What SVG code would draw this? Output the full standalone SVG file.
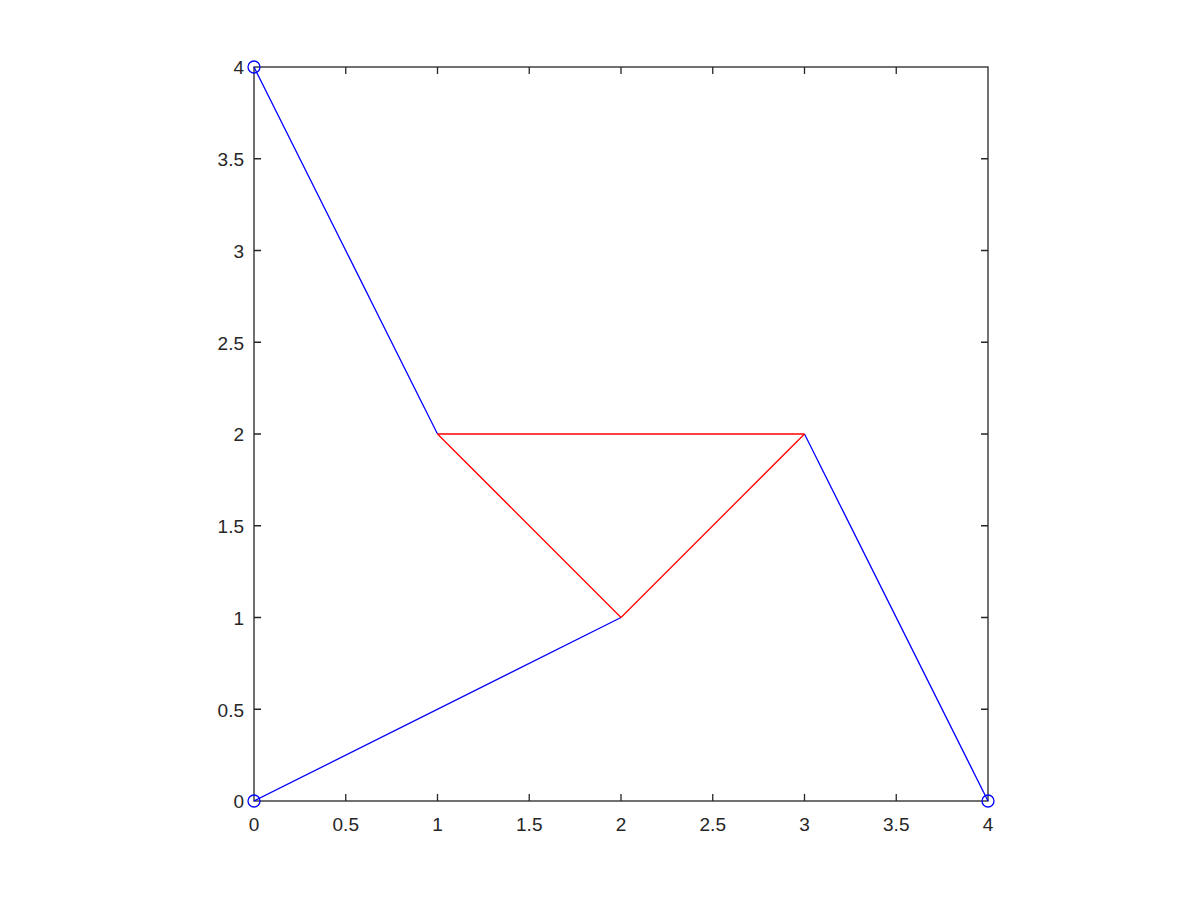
<svg xmlns="http://www.w3.org/2000/svg" width="1200" height="900" viewBox="0 0 1200 900">
<style>
.ax{fill:none;stroke:#262626;stroke-width:1.3}
.tk{stroke:#262626;stroke-width:1.3}
.lbl{font-family:"Liberation Sans",Arial,sans-serif;font-size:19px;fill:#262626}
.yl{text-anchor:end}
.xl{text-anchor:middle}
.b{stroke:#0000ff;stroke-width:1.3;fill:none}
.r{stroke:#ff0000;stroke-width:1.3;fill:none}
.m{stroke:#0000ff;stroke-width:1.3;fill:none}
</style>
<rect width="1200" height="900" fill="#ffffff"/>
<g id="axes">
<rect class="ax" x="254" y="67" width="734" height="734"/>
<g id="xticks">
<path class="tk" d="M345.75 801v-7M437.5 801v-7M529.25 801v-7M621 801v-7M712.75 801v-7M804.5 801v-7M896.25 801v-7M345.75 67v7M437.5 67v7M529.25 67v7M621 67v7M712.75 67v7M804.5 67v7M896.25 67v7"/>
</g>
<g id="yticks">
<path class="tk" d="M254 709.25h7M254 617.5h7M254 525.75h7M254 434h7M254 342.25h7M254 250.5h7M254 158.75h7M988 709.25h-7M988 617.5h-7M988 525.75h-7M988 434h-7M988 342.25h-7M988 250.5h-7M988 158.75h-7"/>
</g>
<g id="xlabels" class="lbl xl">
<text x="254" y="831">0</text>
<text x="345.75" y="831">0.5</text>
<text x="437.5" y="831">1</text>
<text x="529.25" y="831">1.5</text>
<text x="621" y="831">2</text>
<text x="712.75" y="831">2.5</text>
<text x="804.5" y="831">3</text>
<text x="896.25" y="831">3.5</text>
<text x="988" y="831">4</text>
</g>
<g id="ylabels" class="lbl yl">
<text x="244" y="808">0</text>
<text x="244" y="716.5">0.5</text>
<text x="244" y="624.5">1</text>
<text x="244" y="533">1.5</text>
<text x="244" y="441">2</text>
<text x="244" y="349.5">2.5</text>
<text x="244" y="257.5">3</text>
<text x="244" y="166">3.5</text>
<text x="244" y="74">4</text>
</g>
</g>
<g id="connectors">
<line class="b" x1="254" y1="67" x2="437.5" y2="434"/>
<line class="b" x1="254" y1="801" x2="621" y2="617.5"/>
<line class="b" x1="804.5" y1="434" x2="988" y2="801"/>
<line class="r" x1="437.5" y1="434" x2="804.5" y2="434"/>
<line class="r" x1="437.5" y1="434" x2="621" y2="617.5"/>
<line class="r" x1="621" y1="617.5" x2="804.5" y2="434"/>
</g>
<g id="node-0-4"><circle class="m" cx="254" cy="67" r="6"/></g>
<g id="node-0-0"><circle class="m" cx="254" cy="801" r="6"/></g>
<g id="node-4-0"><circle class="m" cx="988" cy="801" r="6"/></g>
</svg>
